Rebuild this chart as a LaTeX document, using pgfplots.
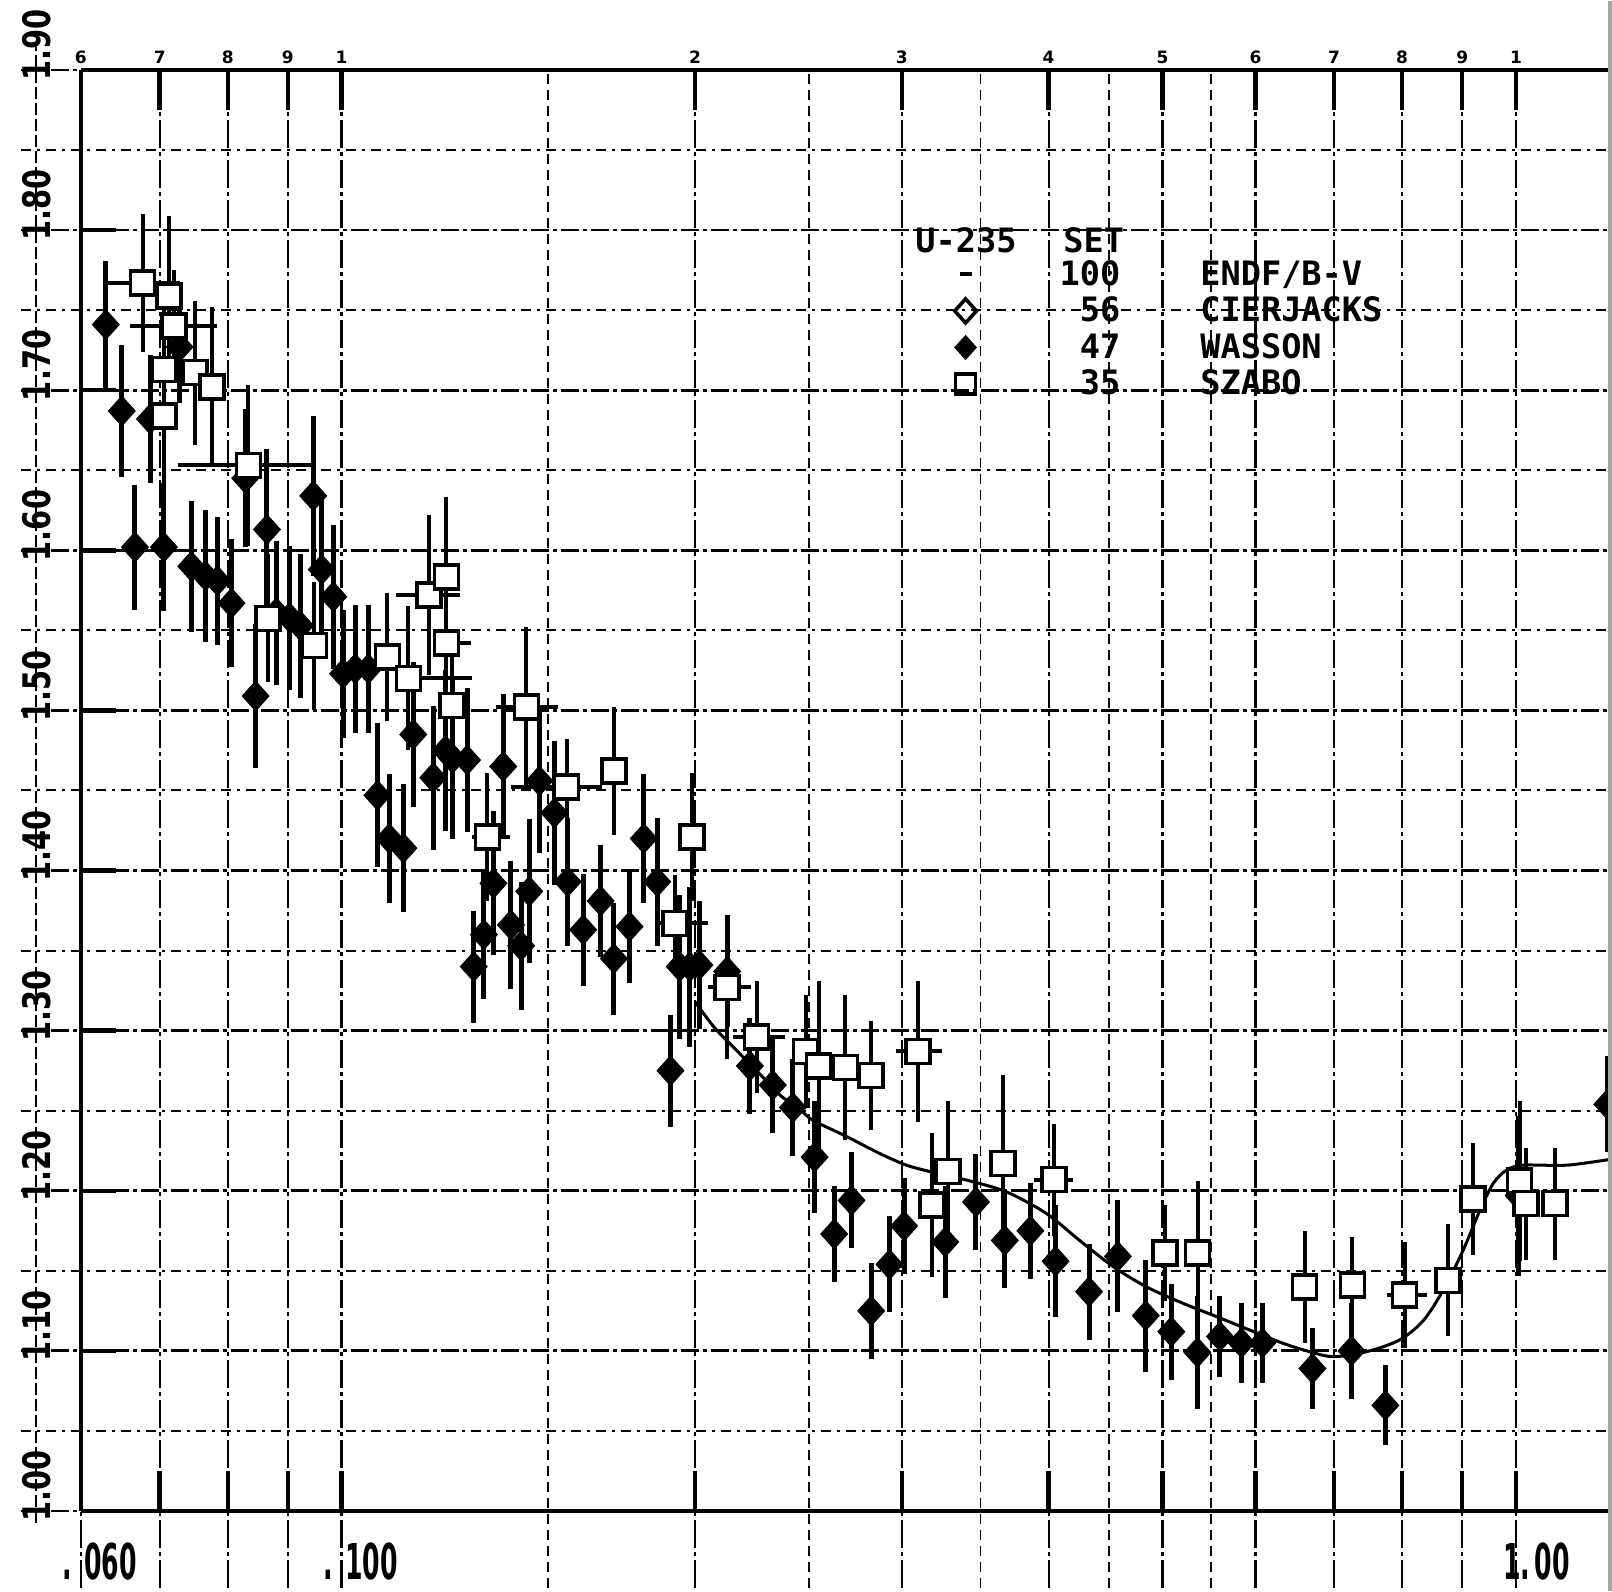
\documentclass[border=0pt]{standalone}
\usepackage{fontspec}
\setmainfont{DejaVu Sans}
\newfontfamily\legfont{DejaVu Sans Mono}
\newfontfamily\yfont{DejaVu Sans}[FakeStretch=0.76]
\newfontfamily\xfont{DejaVu Sans}[FakeStretch=0.51]
\usepackage{pgfplots}
\pgfplotsset{compat=1.18}
\usepackage{pgfplotstable}
\pgfdeclarelayer{background}
\pgfsetlayers{background,main}

\pgfplotstableread{
x y ey
0.0630 1.741 0.040
0.0650 1.687 0.041
0.0667 1.602 0.039
0.0687 1.682 0.040
0.0706 1.602 0.040
0.0728 1.727 0.035
0.0745 1.590 0.041
0.0766 1.584 0.041
0.0784 1.581 0.040
0.0806 1.567 0.040
0.0828 1.645 0.043
0.0845 1.509 0.045
0.0864 1.613 0.050
0.0880 1.561 0.045
0.0903 1.558 0.045
0.0922 1.553 0.045
0.0946 1.634 0.050
0.0962 1.588 0.045
0.0984 1.571 0.045
0.1003 1.523 0.040
0.1027 1.526 0.040
0.1054 1.526 0.040
0.1073 1.447 0.045
0.1098 1.420 0.040
0.1129 1.414 0.040
0.1151 1.485 0.045
0.1197 1.458 0.045
0.1226 1.475 0.050
0.1243 1.470 0.050
0.1279 1.469 0.045
0.1296 1.340 0.035
0.1322 1.360 0.040
0.1347 1.392 0.045
0.1373 1.465 0.045
0.1394 1.366 0.040
0.1422 1.353 0.040
0.1445 1.387 0.045
0.1474 1.456 0.045
0.1518 1.436 0.045
0.1558 1.393 0.040
0.1606 1.363 0.035
0.1662 1.381 0.035
0.1706 1.345 0.035
0.1759 1.365 0.035
0.1809 1.420 0.040
0.1857 1.393 0.040
0.1906 1.275 0.035
0.1941 1.340 0.045
0.1980 1.340 0.050
0.2017 1.341 0.040
0.2130 1.337 0.035
0.2227 1.278 0.030
0.2329 1.266 0.030
0.2423 1.252 0.030
0.2528 1.221 0.035
0.2627 1.173 0.030
0.2718 1.194 0.030
0.2825 1.125 0.030
0.2928 1.154 0.030
0.3013 1.178 0.030
0.3266 1.168 0.035
0.3469 1.193 0.030
0.3671 1.169 0.030
0.3860 1.175 0.030
0.4055 1.156 0.035
0.4330 1.137 0.030
0.4582 1.159 0.035
0.4839 1.122 0.035
0.5088 1.112 0.030
0.5355 1.099 0.035
0.5597 1.109 0.025
0.5838 1.105 0.025
0.6083 1.105 0.025
0.6710 1.089 0.025
0.7244 1.100 0.030
0.7742 1.066 0.025
1.0050 1.197 0.050
1.1960 1.254 0.030
}\wasson

\pgfplotstableread{
x y xm xp ey
0.0677 1.767 0.0047 0.0051 0.043
0.0713 1.759 0 0 0.050
0.0720 1.740 0.0059 0.0064 0.035
0.0706 1.713 0 0 0.055
0.0706 1.684 0 0 0.055
0.0750 1.711 0 0 0.045
0.0776 1.702 0 0 0.050
0.0833 1.653 0.0107 0.0112 0.050
0.0866 1.5575 0 0 0.040
0.0948 1.5405 0 0 0.040
0.1094 1.5335 0 0 0.040
0.1140 1.520 0.0028 0.0152 0.045
0.1187 1.572 0.0075 0.0075 0.050
0.1228 1.5835 0 0 0.050
0.1228 1.542 0.003 0.006 0.045
0.1242 1.503 0 0 0.045
0.1437 1.502 0.0082 0.0093 0.050
0.1331 1.421 0.004 0.006 0.040
0.1555 1.452 0.016 0.011 0.030
0.1706 1.462 0 0 0.040
0.1988 1.421 0 0 0.040
0.1923 1.367 0.006 0.013 0.030
0.2130 1.327 0.008 0.010 0.045
0.2256 1.296 0.010 0.013 0.035
0.2484 1.287 0.004 0.006 0.035
0.2548 1.278 0 0 0.053
0.2686 1.277 0.004 0.004 0.045
0.2822 1.272 0.004 0.007 0.034
0.3096 1.287 0.013 0.015 0.044
0.3181 1.191 0 0 0.045
0.3286 1.212 0 0.008 0.044
0.3657 1.217 0 0 0.055
0.4040 1.207 0.015 0.0155 0.035
0.5024 1.161 0 0 0.030
0.5357 1.161 0 0 0.045
0.6607 1.140 0 0 0.035
0.7257 1.141 0 0 0.030
0.8039 1.135 0.028 0.036 0.033
0.8750 1.144 0 0 0.035
0.9192 1.195 0 0 0.035
1.0070 1.206 0 0 0.050
1.0200 1.192 0 0 0.035
1.0790 1.192 0 0 0.035
}\szabo

\pgfplotstableread{
x y
0.2000 1.318
0.2077 1.302
0.2154 1.290
0.2270 1.273
0.2360 1.260
0.2455 1.251
0.2520 1.244
0.2690 1.234
0.2870 1.2234
0.3027 1.216
0.3170 1.212
0.3405 1.2067
0.3680 1.1994
0.3980 1.186
0.4250 1.169
0.4540 1.1526
0.4846 1.140
0.5206 1.1297
0.5560 1.1214
0.5934 1.113
0.6336 1.1047
0.6675 1.0995
0.6990 1.0964
0.7460 1.0995
0.7960 1.1068
0.8340 1.119
0.8670 1.138
0.9017 1.163
0.9320 1.188
0.9565 1.2047
0.9820 1.213
1.0144 1.216
1.1050 1.216
1.2000 1.2195
}\endf

\tikzset{
  hmaj/.style={line width=1.4pt, dash pattern=on 9pt off 2pt on 2pt off 2pt},
  hmin/.style={line width=1pt, dash pattern=on 5pt off 3pt on 1.5pt off 3pt},
  vmaj/.style={line width=1.1pt, dash pattern=on 14pt off 2pt on 2pt off 2pt},
  vmin/.style={line width=0.9pt, dash pattern=on 5pt off 3pt},
  toplab/.style={anchor=south, inner sep=0pt, font=\bfseries\fontsize{8.5}{9}\selectfont},
  ylab/.style={rotate=90, anchor=south west, inner sep=0pt, font=\yfont\bfseries\fontsize{19}{20}\selectfont},
  xlab/.style={anchor=north west, inner sep=0pt, font=\xfont\bfseries\fontsize{24.7}{26}\selectfont},
  hdr/.style={anchor=base west, inner sep=0pt, font=\legfont\bfseries\fontsize{16.8}{18}\selectfont},
}

\begin{document}
\begin{tikzpicture}
\begin{axis}[
  name=ax,
  width=764pt, height=720.5pt, scale only axis,
  xmode=log, xmin=0.06, xmax=1.2, ymin=1.0, ymax=1.9,
  xtick=\empty, ytick=\empty,
  major tick length=0pt, minor tick length=0pt,
  axis x line*=box, axis y line*=left,
  axis line style={line width=2.2pt},
  legend style={at={(0.5716,0.8709)}, anchor=north west, draw=none, fill=none,
    font=\legfont\bfseries\fontsize{16.8}{18}\selectfont, row sep=0.3pt, inner sep=0pt,
    column sep=0pt},
  legend cell align=left,
]
\addplot[black, line width=1.5pt, smooth, forget plot] table[x=x,y=y] {\endf};
\addplot[black, only marks, mark=diamond*, mark size=7.5pt, mark options={xscale=1.2}, forget plot,
  error bars/.cd, y dir=both, y explicit,
  error bar style={line width=2.5pt, black}, error mark=none]
  table[x=x, y=y, y error=ey] {\wasson};
\addplot[black, only marks, mark=square*, mark size=6pt,
  mark options={fill=white, draw=black, line width=1.8pt}, forget plot,
  error bars/.cd, x dir=both, x explicit, y dir=both, y explicit,
  error bar style={line width=2pt, black}, error mark=none]
  table[x=x, y=y, x error minus=xm, x error plus=xp, y error=ey] {\szabo};
\addlegendimage{legend image code/.code={\draw[line width=2pt] (5.5pt,0pt) -- (11.5pt,0pt);}}
\addlegendentry{\makebox[70pt][r]{100}\hspace{40pt}ENDF/B-V}
\addlegendimage{black, only marks, mark=diamond, mark size=6pt, mark options={line width=1.8pt, fill=white, xscale=1.2}}
\addlegendentry{\makebox[70pt][r]{56}\hspace{40pt}CIERJACKS}
\addlegendimage{black, only marks, mark=diamond*, mark size=6pt, mark options={xscale=1.2}}
\addlegendentry{\makebox[70pt][r]{47}\hspace{40pt}WASSON}
\addlegendimage{black, only marks, mark=square, mark size=5pt, mark options={line width=1.8pt}}
\addlegendentry{\makebox[70pt][r]{35}\hspace{40pt}SZABO}
\end{axis}
% ---- decorations (grid, labels) in absolute units relative to the axis box
\begin{scope}[shift={(ax.south west)}]
\begin{pgfonlayer}{background}
\foreach \w in {1.1,1.2,1.3,1.4,1.5,1.6,1.7,1.8}{
  \pgfmathsetmacro\Y{800.556*(\w-1)}
  \draw[hmaj] (-30pt,\Y pt) -- (764pt,\Y pt);
}
\foreach \w in {1.0,1.9}{
  \pgfmathsetmacro\Y{800.556*(\w-1)}
  \draw[hmaj] (-30pt,\Y pt) -- (0pt,\Y pt);
}
\foreach \w in {1.05,1.15,1.25,1.35,1.45,1.55,1.65,1.75,1.85}{
  \pgfmathsetmacro\Y{800.556*(\w-1)}
  \draw[hmin] (-30pt,\Y pt) -- (764pt,\Y pt);
}
\foreach \v in {0.06,0.07,0.08,0.09,0.1,0.2,0.3,0.4,0.5,0.6,0.7,0.8,0.9,1.0}{
  \pgfmathsetmacro\X{587.226*log10(\v/0.06)}
  \draw[vmaj] (\X pt,-38.5pt) -- (\X pt,720.5pt);
}
\foreach \v in {0.15,0.25,0.35,0.45,0.55}{
  \pgfmathsetmacro\X{587.226*log10(\v/0.06)}
  \draw[vmin] (\X pt,-38.5pt) -- (\X pt,720.5pt);
}
\draw[line width=0.6pt, dash pattern=on 6pt off 2pt] (-22.5pt,-6pt) -- (-22.5pt,732pt);
\end{pgfonlayer}
% thick ticks
\foreach \v in {0.06,0.07,0.08,0.09,0.1,0.2,0.3,0.4,0.5,0.6,0.7,0.8,0.9,1.0}{
  \pgfmathsetmacro\X{587.226*log10(\v/0.06)}
  \draw[line width=2.2pt] (\X pt,0pt) -- (\X pt,20pt);
  \draw[line width=2.2pt] (\X pt,720.5pt) -- (\X pt,700.5pt);
}
\foreach \w in {1.1,1.2,1.3,1.4,1.5,1.6,1.7,1.8}{
  \pgfmathsetmacro\Y{800.556*(\w-1)}
  \draw[line width=2.2pt] (0pt,\Y pt) -- (17.5pt,\Y pt);
}
% right scan edge
\draw[gray!70, line width=2pt] (764.5pt,-40pt) -- (764.5pt,755pt);
% y labels
\foreach \w/\t in {1.0/1.00,1.1/1.10,1.2/1.20,1.3/1.30,1.4/1.40,1.5/1.50,1.6/1.60,1.7/1.70,1.8/1.80,1.9/1.90}{
  \pgfmathsetmacro\Y{800.556*(\w-1)-5.6}
  \node[ylab] at (-14.8pt,\Y pt) {\t};
}
% bottom labels
\node[xlab] at (-9.3pt,-15.5pt) {.\hspace{6pt}060};
\pgfmathsetmacro\X{587.226*log10(0.1/0.06)-9.2}
\node[xlab] at (\X pt,-15.5pt) {.\hspace{6pt}100};
\pgfmathsetmacro\X{587.226*log10(1.0/0.06)-6.5}
\node[xlab] at (\X pt,-15.5pt) {1.\hspace{2pt}00};
% top digits
\foreach \v/\t in {0.06/6,0.07/7,0.08/8,0.09/9,0.1/1,0.2/2,0.3/3,0.4/4,0.5/5,0.6/6,0.7/7,0.8/8,0.9/9,1.0/1}{
  \pgfmathsetmacro\X{587.226*log10(\v/0.06)}
  \node[toplab] at (\X pt,723.5pt) {\t};
}
% legend header
\node[hdr] at (417pt,629pt) {U-235};
\node[hdr] at (491pt,629pt) {SET};
\end{scope}
\pgfresetboundingbox
\path[use as bounding box] ([shift={(-40.5pt,-40pt)}]ax.south west) rectangle ([shift={(1.5pt,35pt)}]ax.north east);
\end{tikzpicture}
\end{document}
